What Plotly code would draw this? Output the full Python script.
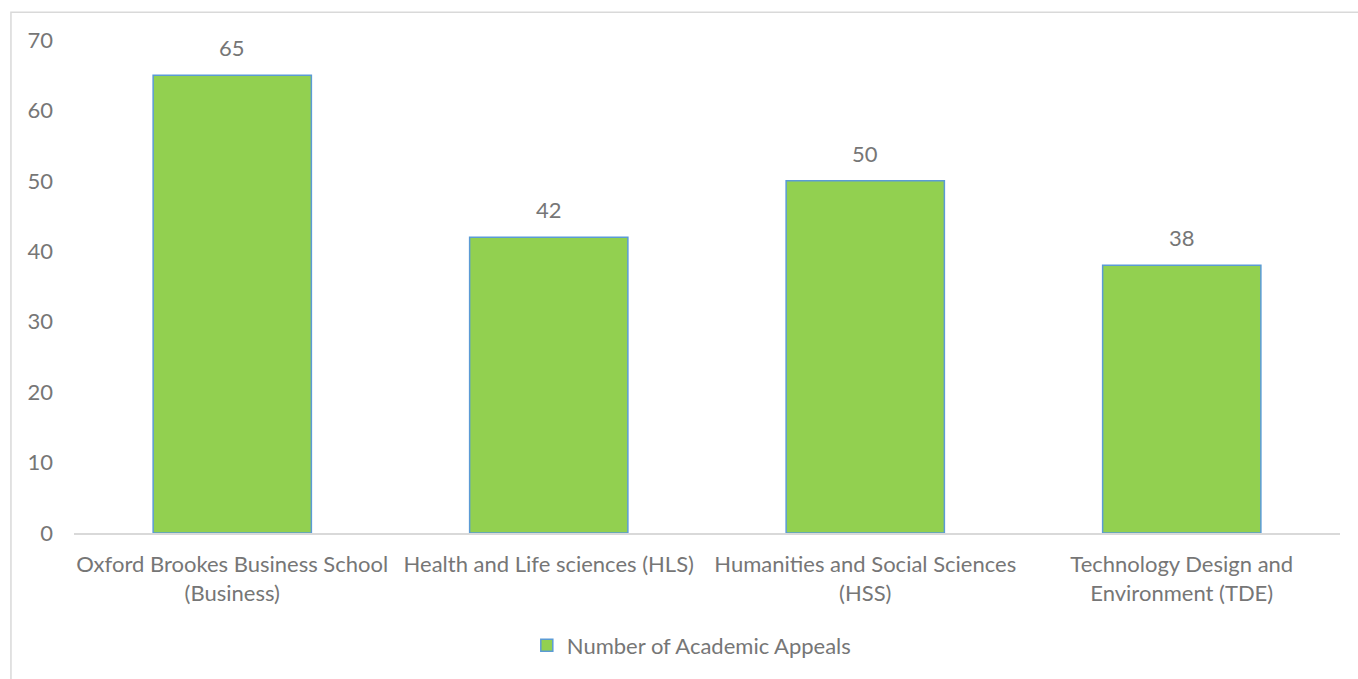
import plotly.graph_objects as go

categories = [
    "Oxford Brookes Business School<br>(Business)",
    "Health and Life sciences (HLS)",
    "Humanities and Social Sciences<br>(HSS)",
    "Technology Design and<br>Environment (TDE)",
]
appeals = [65, 42, 50, 38]
series_name = "Number of Academic Appeals"
y_ticks = [0, 10, 20, 30, 40, 50, 60, 70]

font_family = "Lato, Open Sans, sans-serif"
gray = "#767676"
fs = 22

fig = go.Figure(
    go.Bar(
        x=categories,
        y=appeals,
        name=series_name,
        marker=dict(color="#92D050", line=dict(color="#5B9BD5", width=1.5)),
        showlegend=True,
    )
)

for c, v in zip(categories, appeals):
    fig.add_annotation(
        x=c, y=v, text=str(v), showarrow=False,
        yanchor="bottom", yshift=12,
        font=dict(size=fs, color=gray, family=font_family),
    )

fig.update_layout(
    width=1358,
    height=679,
    margin=dict(l=74, r=18, t=40, b=143),
    paper_bgcolor="white",
    plot_bgcolor="white",
    bargap=0.5,
    font=dict(family=font_family, size=fs, color=gray),
    showlegend=True,
    legend=dict(
        orientation="h",
        x=0.488,
        xanchor="center",
        y=-0.228,
        yanchor="middle",
        itemwidth=30,
        font=dict(size=fs, color=gray),
    ),
    xaxis=dict(
        showline=True,
        linecolor="#D9D9D9",
        linewidth=1.5,
        ticks="",
        showgrid=False,
        ticklabelstandoff=11,
        tickfont=dict(size=fs, color=gray),
    ),
    yaxis=dict(
        range=[0, 70],
        tickvals=y_ticks,
        showgrid=False,
        zeroline=False,
        showline=False,
        ticks="",
        ticklabelstandoff=20,
        tickfont=dict(size=fs, color=gray),
    ),
    shapes=[
        dict(
            type="rect",
            xref="paper",
            yref="paper",
            x0=-0.0498,
            x1=1.05,
            y0=-0.4,
            y1=1.0565,
            line=dict(color="#D9D9D9", width=1.5),
            fillcolor="rgba(0,0,0,0)",
            layer="below",
        )
    ],
)

fig.write_html(
    "out.html",
    config={"displayModeBar": False},
    post_script="document.body.style.margin='0';document.body.style.overflow='hidden';",
)
